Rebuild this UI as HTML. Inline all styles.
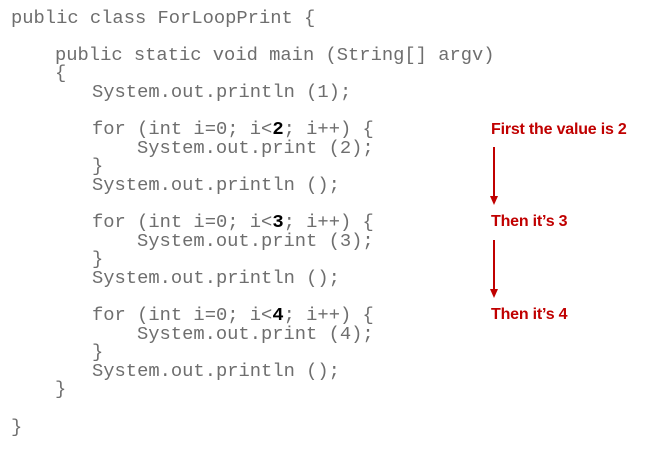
<!DOCTYPE html>
<html><head><style>
body{margin:0;width:649px;height:455px;background:#fff;position:relative;overflow:hidden}
.c{position:absolute;font-family:"Liberation Mono",monospace;font-size:18.8px;color:#6e6e6e;white-space:pre;line-height:20px}
.c b{color:#000}
.r{position:absolute;font-family:"Liberation Sans",sans-serif;font-weight:bold;font-size:16px;color:#c00000;white-space:pre;line-height:18px;letter-spacing:-0.2px}
</style></head><body>
<div class="c" style="left:11px;top:8px">public class ForLoopPrint {</div>
<div class="c" style="left:55px;top:45px">public static void main (String[] argv)</div>
<div class="c" style="left:55px;top:63px">{</div>
<div class="c" style="left:92px;top:82px">System.out.println (1);</div>
<div class="c" style="left:92px;top:119px">for (int i=0; i&lt;<b>2</b>; i++) {</div>
<div class="c" style="left:137px;top:138px">System.out.print (2);</div>
<div class="c" style="left:92px;top:156px">}</div>
<div class="c" style="left:92px;top:175px">System.out.println ();</div>
<div class="c" style="left:92px;top:212px">for (int i=0; i&lt;<b>3</b>; i++) {</div>
<div class="c" style="left:137px;top:231px">System.out.print (3);</div>
<div class="c" style="left:92px;top:249px">}</div>
<div class="c" style="left:92px;top:268px">System.out.println ();</div>
<div class="c" style="left:92px;top:305px">for (int i=0; i&lt;<b>4</b>; i++) {</div>
<div class="c" style="left:137px;top:324px">System.out.print (4);</div>
<div class="c" style="left:92px;top:342px">}</div>
<div class="c" style="left:92px;top:361px">System.out.println ();</div>
<div class="c" style="left:55px;top:379px">}</div>
<div class="c" style="left:11px;top:417px">}</div>
<div class="r" style="left:491px;top:121px">First the value is 2</div>
<div class="r" style="left:491px;top:213px">Then it’s 3</div>
<div class="r" style="left:491px;top:306px">Then it’s 4</div>
<svg style="position:absolute;left:0;top:0" width="649" height="455">
<line x1="494" y1="147" x2="494" y2="198" stroke="#c00000" stroke-width="2"/>
<polygon points="490,196 498,196 494,205" fill="#c00000"/>
<line x1="494" y1="240" x2="494" y2="291" stroke="#c00000" stroke-width="2"/>
<polygon points="490,289 498,289 494,298" fill="#c00000"/>
</svg>
</body></html>
